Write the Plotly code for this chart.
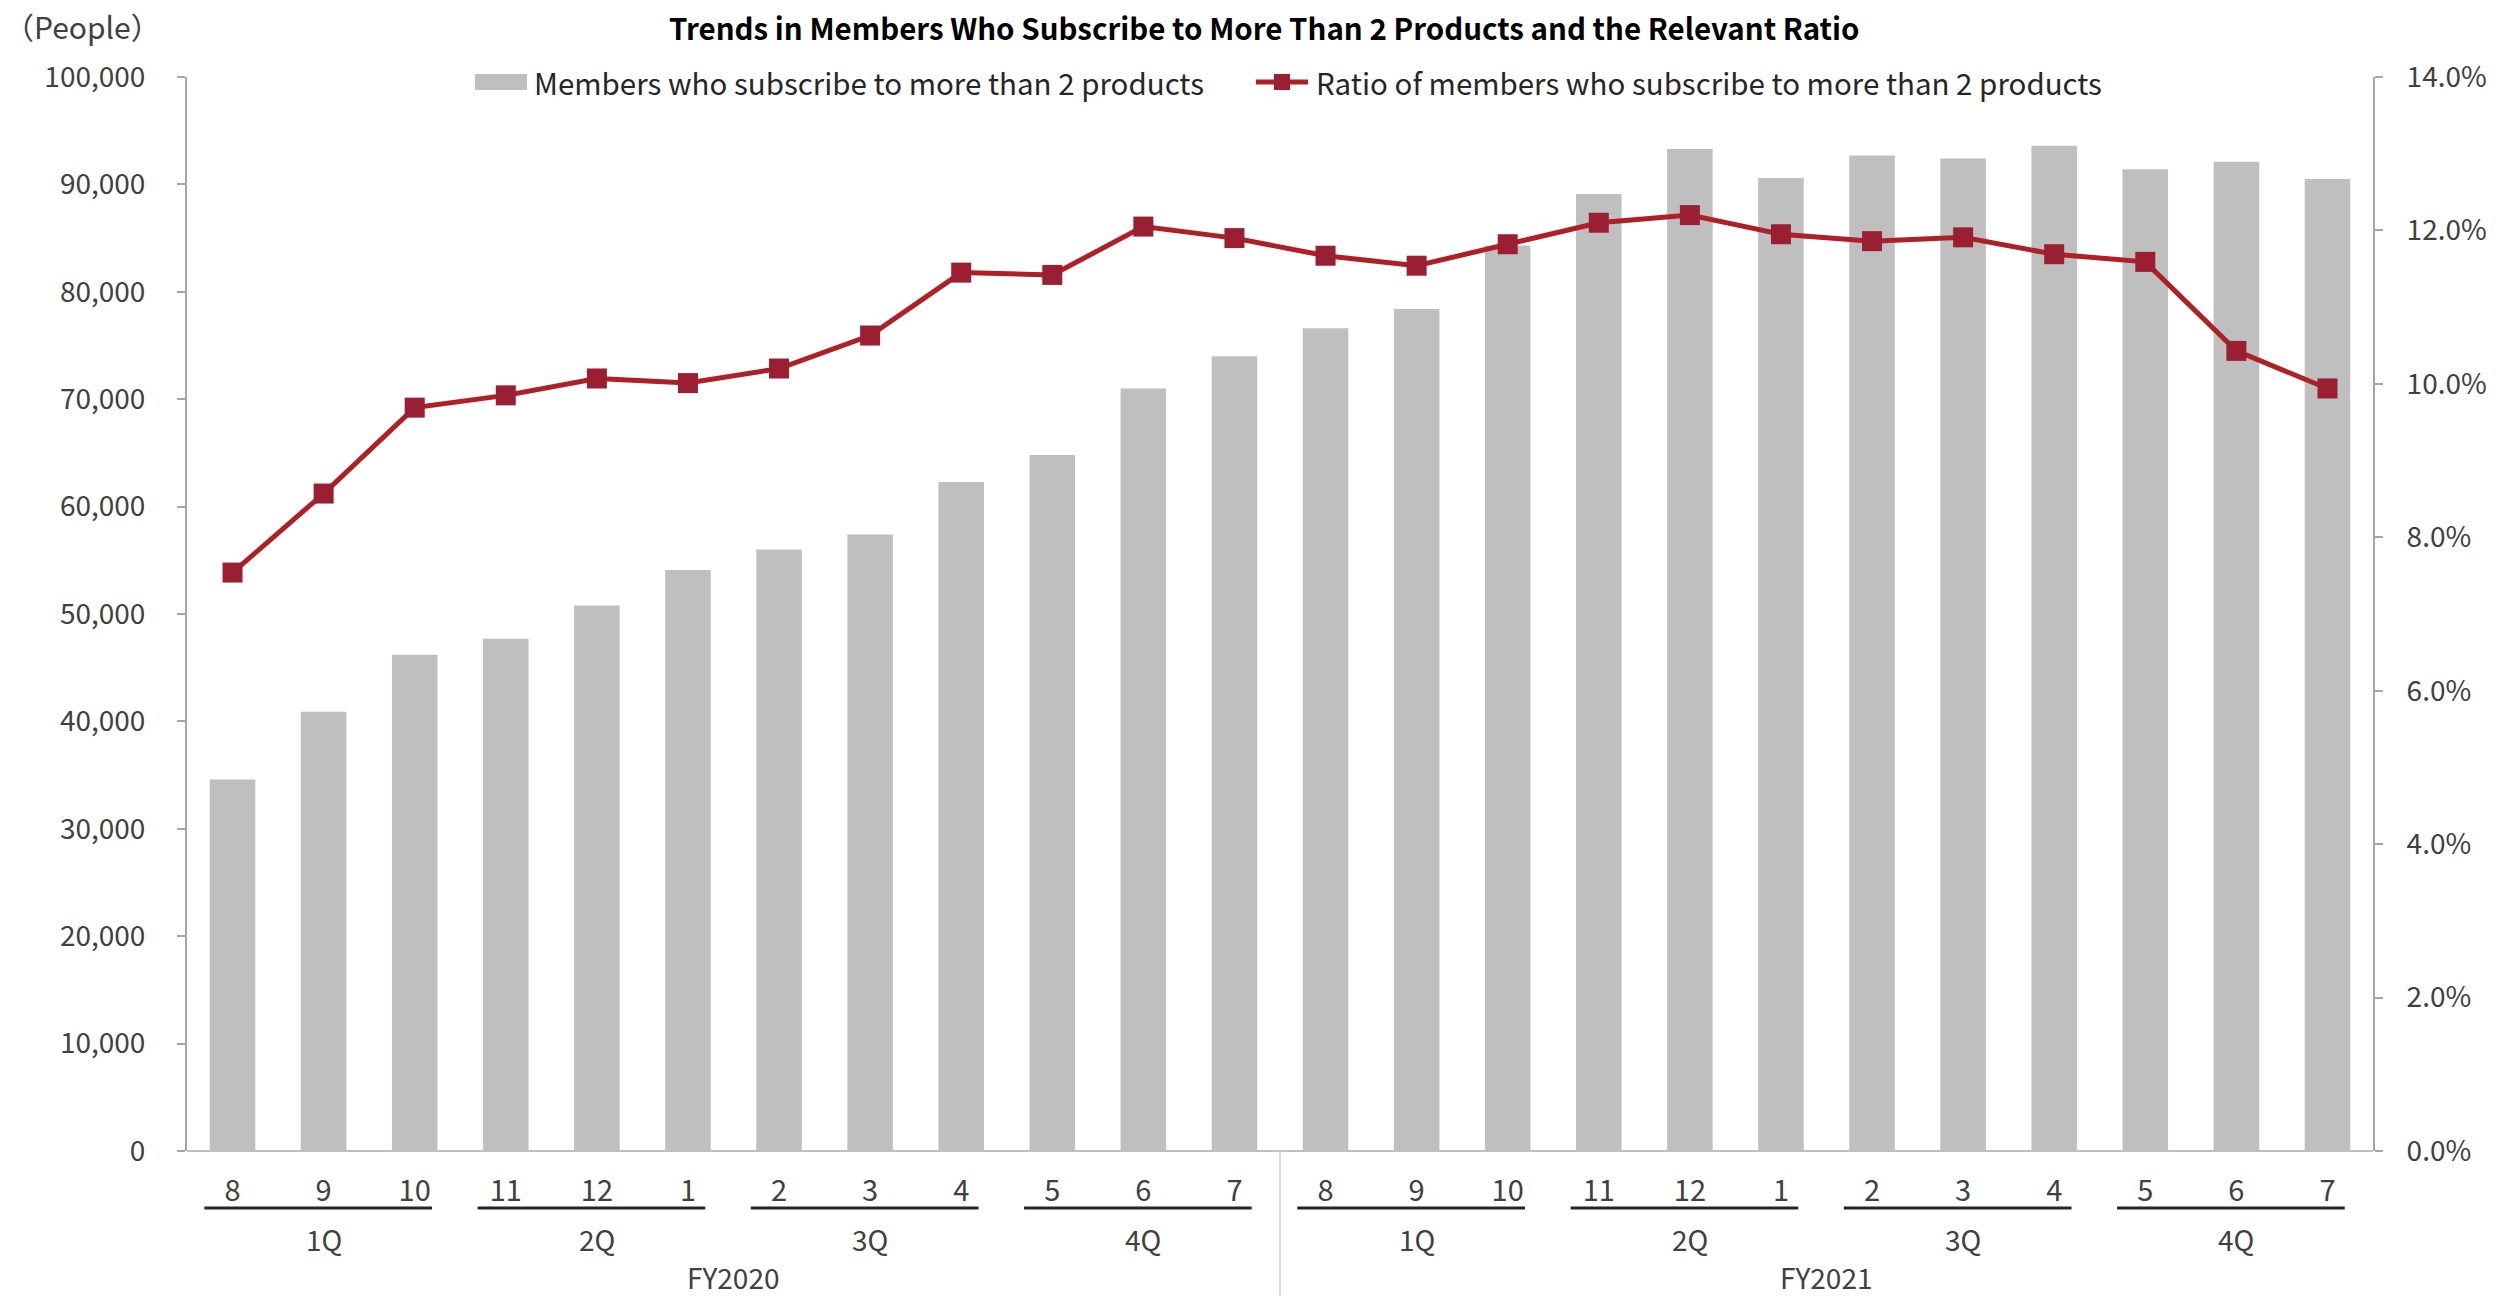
import plotly.graph_objects as go

# Monthly categories (Aug–Jul fiscal year), grouped into quarters and fiscal years
months = ["8", "9", "10", "11", "12", "1", "2", "3", "4", "5", "6", "7",
          "8", "9", "10", "11", "12", "1", "2", "3", "4", "5", "6", "7"]
quarters = ["1Q", "2Q", "3Q", "4Q"]
fiscal_years = ["FY2020", "FY2021"]

# Members who subscribe to more than 2 products (people)
members = [34600, 40900, 46200, 47700, 50800, 54100, 56000, 57400, 62300, 64800, 71000, 74000,
           76600, 78400, 84300, 89100, 93300, 90600, 92700, 92400, 93600, 91400, 92100, 90500]

# Ratio of those members (%)
ratio_pct = [7.54, 8.57, 9.69, 9.85, 10.07, 10.01, 10.2, 10.63, 11.45, 11.42, 12.05, 11.9,
             11.67, 11.54, 11.82, 12.1, 12.2, 11.95, 11.86, 11.91, 11.69, 11.59, 10.43, 9.94]

bar_name = "Members who subscribe to more than 2 products"
line_name = "Ratio of members who subscribe to more than 2 products"

FONT = "Noto Sans CJK JP"
TXT = "#404040"
BAR_COLOR = "#BFBFBF"
LINE_COLOR = "#AE1F26"
MARKER_COLOR = "#9B1F33"

x_idx = list(range(len(months)))
ratio = [v / 100 for v in ratio_pct]

# plot-area geometry in pixels
L, R, T, B = 187, 130, 77, 145
W_PLOT = 2503 - L - R
H_PLOT = 1296 - T - B


def px_x(p):
    return (p - L) / W_PLOT


def px_y(p):
    return (1296 - B - p) / H_PLOT


fig = go.Figure()
fig.add_trace(go.Bar(
    x=x_idx, y=members, name=bar_name,
    marker=dict(color=BAR_COLOR, line=dict(width=0)), yaxis="y",
))
fig.add_trace(go.Scatter(
    x=x_idx, y=ratio, name=line_name,
    mode="lines+markers", yaxis="y2",
    line=dict(color=LINE_COLOR, width=5),
    marker=dict(symbol="square", size=20, color=MARKER_COLOR),
))

shapes = []
# horizontal category axis line, slightly extended past both value axes
shapes.append(dict(type="line", xref="x", xsizemode="pixel", xanchor=-0.5,
                   x0=-10, x1=W_PLOT + 9, yref="paper", y0=0, y1=0,
                   line=dict(color="#BFBFBF", width=2)))
# vertical separators of the fiscal-year blocks
for xa, off in [(-0.5, -10), (11.5, 0), (23.5, 9)]:
    shapes.append(dict(type="line", xref="x", xsizemode="pixel", xanchor=xa,
                       x0=off, x1=off, yref="paper", ysizemode="pixel", yanchor=0,
                       y0=0, y1=-150, line=dict(color="#D9D9D9", width=2)))
# underline below each quarter's months
for q in range(8):
    start = q * 3
    shapes.append(dict(type="line", xref="x", x0=start - 0.5 + 0.19, x1=start + 2.5 - 0.31,
                       yref="paper", ysizemode="pixel", yanchor=0, y0=-57, y1=-57,
                       line=dict(color="#262626", width=3)))

# legend glyphs
LEG_Y = 82
shapes.append(dict(type="rect", xref="paper", yref="paper",
                   x0=px_x(475), x1=px_x(527), y0=px_y(LEG_Y + 8), y1=px_y(LEG_Y - 8),
                   fillcolor=BAR_COLOR, line=dict(width=0)))
shapes.append(dict(type="line", xref="paper", yref="paper",
                   x0=px_x(1256), x1=px_x(1308), y0=px_y(LEG_Y), y1=px_y(LEG_Y),
                   line=dict(color=LINE_COLOR, width=5)))
shapes.append(dict(type="rect", xref="paper", yref="paper",
                   x0=px_x(1274), x1=px_x(1290), y0=px_y(LEG_Y + 8), y1=px_y(LEG_Y - 8),
                   fillcolor=MARKER_COLOR, line=dict(width=0)))

annotations = []
for q in range(8):
    annotations.append(dict(text=quarters[q % 4], x=q * 3 + 1, xref="x", y=0, yref="paper",
                            yshift=-88, yanchor="middle", showarrow=False,
                            font=dict(family=FONT, size=28, color=TXT)))
for i, fy in enumerate(fiscal_years):
    annotations.append(dict(text=fy, x=i * 12 + 5.5, xref="x", y=0, yref="paper",
                            yshift=-126, yanchor="middle", showarrow=False,
                            font=dict(family=FONT, size=28, color=TXT)))
annotations.append(dict(text="（People）", x=px_x(2), xref="paper", xanchor="left",
                        y=px_y(26), yref="paper", yanchor="middle", showarrow=False,
                        font=dict(family=FONT, size=30, color=TXT)))
annotations.append(dict(text="<b>Trends in Members Who Subscribe to More Than 2 Products and the Relevant Ratio</b>",
                        x=px_x(1264), xref="paper", xanchor="center",
                        y=px_y(27), yref="paper", yanchor="middle", showarrow=False,
                        font=dict(family=FONT, size=29.5, color="#000000")))
annotations.append(dict(text=bar_name, x=px_x(532), xref="paper", xanchor="left",
                        y=px_y(LEG_Y), yref="paper", yanchor="middle", showarrow=False,
                        font=dict(family=FONT, size=29.5, color="#262626")))
annotations.append(dict(text=line_name, x=px_x(1314), xref="paper", xanchor="left",
                        y=px_y(LEG_Y), yref="paper", yanchor="middle", showarrow=False,
                        font=dict(family=FONT, size=29.5, color="#262626")))

fig.update_layout(
    width=2503, height=1296,
    margin=dict(l=L, r=R, t=T, b=B),
    paper_bgcolor="white", plot_bgcolor="white",
    font=dict(family=FONT, size=28, color=TXT),
    bargap=0.5,
    showlegend=False,
    xaxis=dict(range=[-0.5, 23.5], tickmode="array", tickvals=x_idx, ticktext=months,
               ticks="", showline=False, showgrid=False, zeroline=False,
               ticklabelstandoff=20, tickfont=dict(family=FONT, size=29, color=TXT)),
    yaxis=dict(range=[0, 100000], tickmode="linear", tick0=0, dtick=10000,
               tickformat=",d", showgrid=False, zeroline=False,
               showline=True, linecolor="#A6A6A6", linewidth=2,
               ticks="outside", ticklen=8, tickcolor="#A6A6A6", tickwidth=2,
               ticklabelstandoff=26, tickfont=dict(family=FONT, size=28, color=TXT)),
    yaxis2=dict(range=[0, 0.14], overlaying="y", side="right", tickmode="linear",
                tick0=0, dtick=0.02, tickformat=".1%", showgrid=False, zeroline=False,
                showline=True, linecolor="#A6A6A6", linewidth=2,
                ticks="outside", ticklen=8, tickcolor="#A6A6A6", tickwidth=2,
                ticklabelstandoff=18, tickfont=dict(family=FONT, size=28, color=TXT)),
    shapes=shapes,
    annotations=annotations,
    hovermode=False,
)

fig.write_html("out.html")
